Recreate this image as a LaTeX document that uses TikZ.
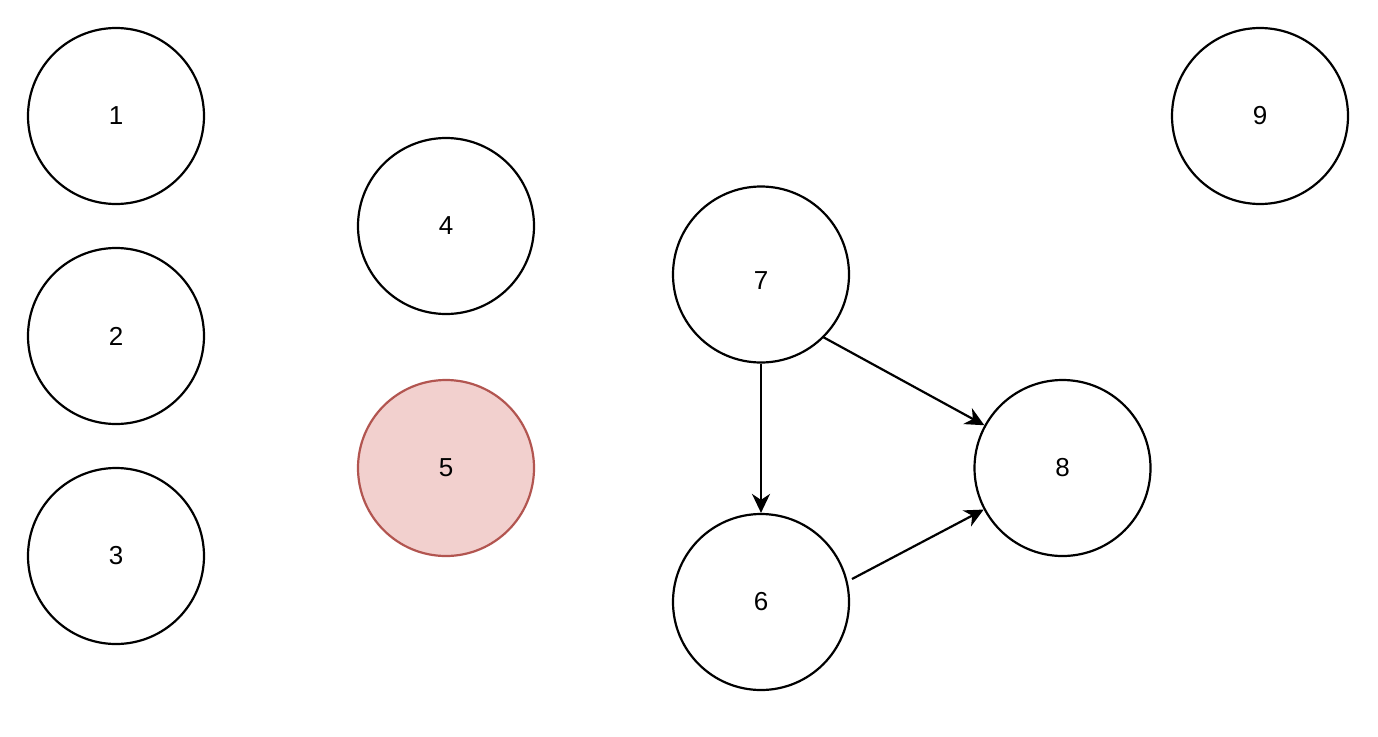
\documentclass[tikz,border=0pt]{standalone}
\usepackage{fontspec}
\setmainfont{Liberation Sans}
\usetikzlibrary{arrows.meta}
\definecolor{redfill}{RGB}{242,208,206}
\definecolor{redline}{RGB}{178,85,80}
\begin{document}
\begin{tikzpicture}[x=1pt,y=-1pt,
  vtx/.style={circle,draw=black,line width=2.2pt,minimum size=176pt,inner sep=0pt,font=\fontsize{26}{30}\selectfont},
  hot/.style={vtx,draw=redline,fill=redfill},
  conn/.style={line width=2.2pt,-{Stealth[length=19pt,width=18pt,inset=6pt]}}]
\useasboundingbox (0,0) rectangle (1378,736);
\node[vtx] (n1) at (116,116) {1};
\node[vtx] (n2) at (116,336) {2};
\node[vtx] (n3) at (116,556) {3};
\node[vtx] (n4) at (446,226) {4};
\node[hot] (n5) at (446,468) {5};
\node[vtx,text height=29.6pt,text depth=0pt] (n7) at (761,274.5) {7};
\node[vtx] (n6) at (761,602) {6};
\node[vtx] (n8) at (1062.5,468) {8};
\node[vtx] (n9) at (1260,116) {9};
\coordinate (s6) at (852,579);
\coordinate (s7) at (823,337);
\draw[conn] (n7) -- (n6);
\draw[conn] (s7) -- (n8);
\draw[conn] (s6) -- (n8);
\end{tikzpicture}
\end{document}
